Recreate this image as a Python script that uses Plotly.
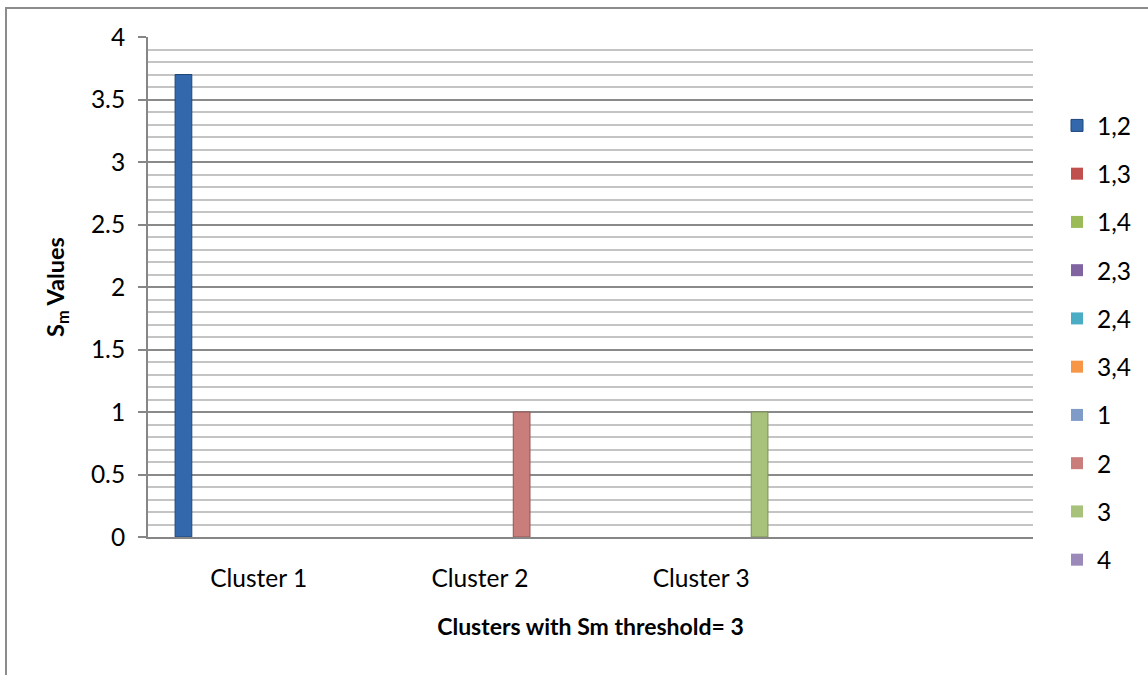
import plotly.graph_objects as go

categories = ["Cluster 1", "Cluster 2", "Cluster 3"]

series_names = ["1,2", "1,3", "1,4", "2,3", "2,4", "3,4", "1", "2", "3", "4"]
v_12 = [3.7, 0, 0]
v_13 = [0, 0, 0]
v_14 = [0, 0, 0]
v_23 = [0, 0, 0]
v_24 = [0, 0, 0]
v_34 = [0, 0, 0]
v_1 = [0, 0, 0]
v_2 = [0, 1, 0]
v_3 = [0, 0, 1]
v_4 = [0, 0, 0]
series_values = [v_12, v_13, v_14, v_23, v_24, v_34, v_1, v_2, v_3, v_4]

fill_colors = ["#3468AC", "#C0504D", "#9BBB59", "#8064A2", "#4BACC6",
               "#F79646", "#7F9CC9", "#C97E7C", "#A8C27C", "#9A89B9"]
line_colors = ["#1F4676", "#8C3230", "#6B8438", "#5A4477", "#2F7C91",
               "#B8692A", "#55719A", "#935453", "#788F52", "#6E5F8A"]

FONT = "Lato, Carlito, Calibri, sans-serif"
FS = 24.5

fig = go.Figure()
for name, vals, fc, lc in zip(series_names, series_values, fill_colors, line_colors):
    fig.add_trace(go.Bar(
        name=name, x=categories, y=vals, legendgroup=name,
        marker=dict(color=fc,
                    line=dict(color=lc, width=[1 if v else 0 for v in vals])),
    ))

W, H = 1148, 675
L, R, T, B = 148, 115, 37, 138
pw, ph = W - L - R, H - T - B

def px_x(p):
    return (p - L) / pw

def px_y(p):
    return (H - B - p) / ph

fig.update_layout(
    width=W, height=H, autosize=False,
    margin=dict(l=L, r=R, t=T, b=B, pad=0),
    paper_bgcolor="white", plot_bgcolor="white",
    barmode="group", bargap=0.245, bargroupgap=0,
    font=dict(family=FONT, size=FS, color="#000000"),
    showlegend=True,
    legend=dict(
        x=px_x(1057), xanchor="left", y=px_y(103), yanchor="top",
        font=dict(family=FONT, size=FS, color="#000000"),
        tracegroupgap=13.4, traceorder="grouped",
        bgcolor="rgba(0,0,0,0)",
    ),
    xaxis=dict(
        type="category", categoryorder="array", categoryarray=categories,
        range=[-0.5, 3.5], showgrid=False, zeroline=False,
        showline=True, linecolor="#868686", linewidth=2,
        ticks="", ticklabelstandoff=19,
        tickfont=dict(family=FONT, size=FS, color="#000000"),
        title=dict(text="<b>Clusters with Sm threshold= 3</b>", standoff=27,
                   font=dict(family=FONT, size=23, color="#000000")),
    ),
    yaxis=dict(
        range=[0, 4], dtick=0.5, tick0=0,
        showgrid=True, gridcolor="#8A8A8A", gridwidth=2,
        zeroline=False, showline=True, linecolor="#868686", linewidth=2,
        ticks="outside", ticklen=8, tickcolor="#868686", tickwidth=2,
        ticklabelstandoff=8,
        tickfont=dict(family=FONT, size=FS, color="#000000"),
        minor=dict(dtick=0.1, showgrid=True, gridcolor="#C4C4C4", gridwidth=1.6, ticks=""),
        title=dict(text="<b>S<sub>m</sub> Values</b>", standoff=20,
                   font=dict(family=FONT, size=23.5, color="#000000")),
    ),
    shapes=[dict(
        type="rect", xref="paper", yref="paper",
        x0=px_x(6), x1=px_x(1170), y0=px_y(700), y1=px_y(8),
        line=dict(color="#8C8C8C", width=2), fillcolor="rgba(0,0,0,0)",
        layer="below",
    )],
)

fig.write_html("out.html")
